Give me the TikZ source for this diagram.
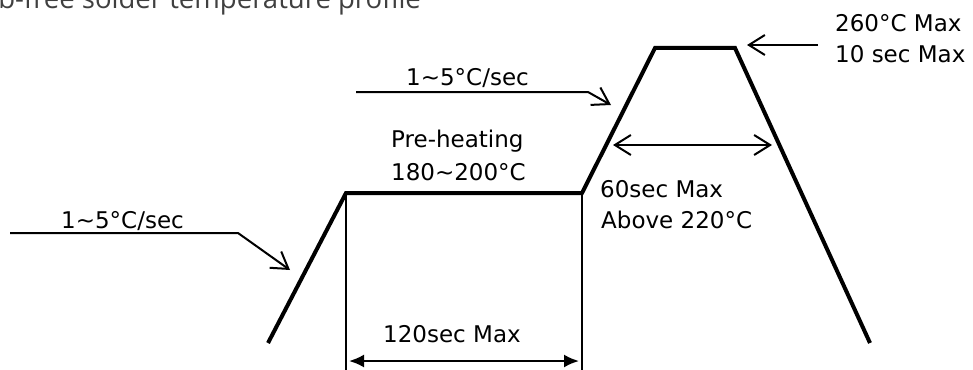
\documentclass[tikz,border=0pt]{standalone}
\usepackage{fontspec}
\setmainfont{DejaVu Sans}
\newfontfamily\titlefont{Open Sans}
\usetikzlibrary{arrows.meta}
\begin{document}
\begin{tikzpicture}[x=1pt,y=-1pt,
  profile/.style={line width=4pt, line join=miter},
  guide/.style={line width=2.4pt},
  barb/.tip={Straight Barb[length=16pt,width=20pt]},
  pointer/.style={line width=2pt, -barb},
  span/.style={line width=2pt, barb-barb},
  dim/.style={line width=2.2pt, {Latex[length=15pt,width=13pt]}-{Latex[length=15pt,width=13pt]}},
  lbl/.style={inner sep=0pt, anchor=base west, font=\fontsize{23}{28}\selectfont}]
\path[use as bounding box] (0,0) rectangle (973,369);
\clip (0,0) rectangle (973,369);
\fill[white] (0,0) rectangle (973,369);

\node[inner sep=0pt, anchor=base west, font=\titlefont\fontsize{27.5}{32}\selectfont, text=black!75] (title) at (-18.5,8.5) {Pb-free solder temperature profile};

% profile
\coordinate (s0) at (268,343);
\coordinate (s1) at (346,193);
\coordinate (s2) at (582,193);
\coordinate (s3) at (655,48);
\coordinate (s4) at (735,48);
\coordinate (s5) at (870,343);
\coordinate (b1) at (346,372);
\coordinate (b2) at (582,372);
\draw[guide] (s1) -- (b1);
\draw[guide] (s2) -- (b2);
\draw[profile] (s0) -- (s1) -- (s2) -- (s3) -- (s4) -- (s5);

% pointers
\coordinate (p1a) at (818,45);
\coordinate (p1b) at (747,45);
\draw[pointer] (p1a) -- (p1b);

\coordinate (p2a) at (356,92);
\coordinate (p2b) at (588,92);
\coordinate (p2c) at (611,105);
\draw[pointer] (p2a) -- (p2b) -- (p2c);

\coordinate (p3a) at (10,233);
\coordinate (p3b) at (238,233);
\coordinate (p3c) at (290,270);
\draw[pointer] (p3a) -- (p3b) -- (p3c);

\coordinate (w1) at (613,145);
\coordinate (w2) at (772,145);
\draw[span] (w1) -- (w2);

\coordinate (d1) at (349,361);
\coordinate (d2) at (579,361);
\draw[dim] (d1) -- (d2);

% labels
\node[lbl] (peak1) at (835,32) {260°C Max};
\node[lbl] (peak2) at (835,63) {10 sec Max};
\node[lbl] (rate1) at (406,85) {1\char"007E 5°C/sec};
\node[lbl] (rate2) at (61,228) {1\char"007E 5°C/sec};
\node[lbl] (pre1) at (391,147) {Pre-heating};
\node[lbl] (pre2) at (391,180) {180\char"007E 200°C};
\node[lbl] (above1) at (600,197) {60sec Max};
\node[lbl] (above2) at (601,228) {Above 220°C};
\node[lbl] (dur) at (383,342) {120sec Max};
\end{tikzpicture}
\end{document}
